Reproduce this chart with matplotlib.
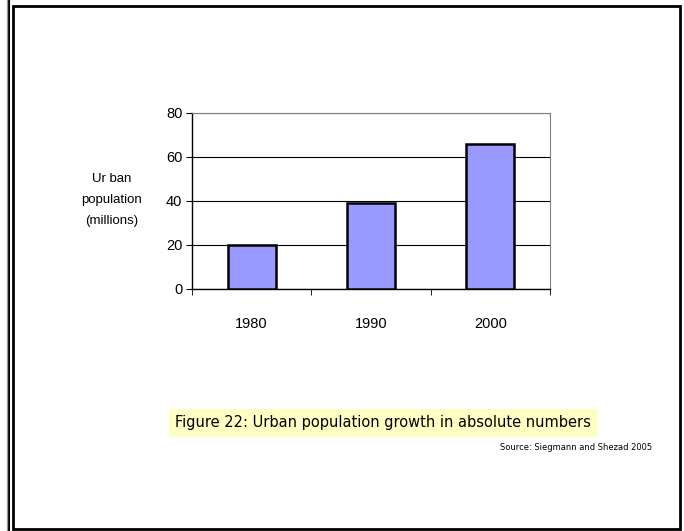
import matplotlib.pyplot as plt
from matplotlib.patches import Rectangle
from matplotlib.lines import Line2D

years = ['1980', '1990', '2000']
urban_pop = [20, 39, 66]
y_ticks = [0, 20, 40, 60, 80]

W, H = 684, 531
fig = plt.figure(figsize=(W / 100, H / 100), dpi=100)


def fx(px):
    return px / W


def fy(py):
    return 1 - py / H


# page frame (slide border)
fig.add_artist(Rectangle((fx(13), fy(529)), fx(680) - fx(13), fy(6) - fy(529),
                         transform=fig.transFigure, fill=False, ec='black', lw=2))
fig.add_artist(Line2D([fx(9), fx(9)], [fy(0), fy(531)], transform=fig.transFigure,
                      color='black', lw=1.5))
fig.add_artist(Line2D([fx(7), fx(7)], [fy(0), fy(531)], transform=fig.transFigure,
                      color='#999999', lw=1))

# chart area
ax = fig.add_axes([fx(192), fy(289), fx(550) - fx(192), fy(113) - fy(289)])
x = range(len(years))
ax.bar(x, urban_pop, width=0.4, color='#9999FF', edgecolor='black', linewidth=1.8, zorder=3)
ax.set_xlim(-0.5, len(years) - 0.5)
ax.set_ylim(0, 80)
ax.set_yticks(y_ticks)
ax.set_xticks(x)
ax.set_xticklabels(years)
ax.set_xticks([i + 0.5 for i in range(-1, len(years))], minor=True)
ax.tick_params(axis='x', which='major', length=0, pad=20, labelsize=10.5)
ax.tick_params(axis='x', which='minor', length=4, direction='out', color='black')
ax.tick_params(axis='y', length=4, direction='out', labelsize=10.5, pad=3)
for lbl in ax.get_xticklabels() + ax.get_yticklabels():
    lbl.set_family('Liberation Sans')
ax.yaxis.grid(True, color='black', linewidth=0.8, zorder=0)
for side in ['top', 'right']:
    ax.spines[side].set_color('#808080')
for side in ['left', 'bottom']:
    ax.spines[side].set_color('black')
    ax.spines[side].set_linewidth(1)

fig.text(fx(112), fy(200), 'Ur ban\npopulation\n(millions)', ha='center', va='center',
         fontsize=9.5, family='Liberation Sans', linespacing=2.0)

# caption
fig.text(fx(383), fy(423), 'Figure 22: Urban population growth in absolute numbers',
         ha='center', va='center', fontsize=10.5, family='DejaVu Sans',
         bbox=dict(boxstyle='square,pad=0.45', fc='#FFFFC4', ec='none'))
fig.text(fx(652), fy(447), 'Source: Siegmann and Shezad 2005', ha='right', va='center',
         fontsize=6, family='DejaVu Sans')

fig.savefig('out.png', dpi=100)
